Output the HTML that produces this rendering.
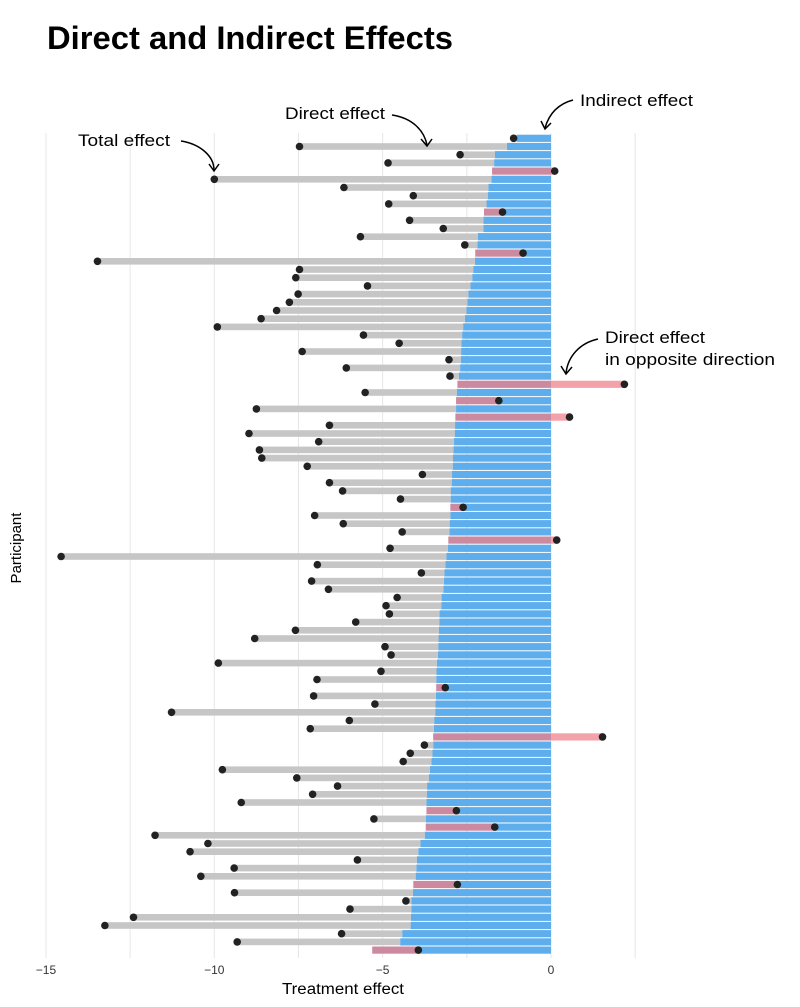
<!DOCTYPE html>
<html><head><meta charset="utf-8"><style>
body{margin:0;background:#fff;font-family:"Liberation Sans",sans-serif;}
#wrap{position:relative;width:800px;height:1007px;overflow:hidden;}
</style></head><body>
<div id="wrap">
<svg id="chart" width="800" height="1007" style="font-family:'Liberation Sans',sans-serif">
<text x="47" y="49" font-size="32" font-weight="bold" fill="#000" textLength="406" lengthAdjust="spacingAndGlyphs">Direct and Indirect Effects</text>
<g id="grid"></g>
<g id="bars"></g>
<g id="xticks"></g>
<text x="282" y="994" font-size="15.5" fill="#000" textLength="122" lengthAdjust="spacingAndGlyphs">Treatment effect</text>
<text transform="translate(21,548) rotate(-90)" font-size="15" text-anchor="middle" fill="#000">Participant</text>
<g>
<text x="78" y="146" font-size="17" fill="#000" textLength="92" lengthAdjust="spacingAndGlyphs">Total effect</text>
<path d="M181,141 C200,144 214,156 214,170" fill="none" stroke="#000" stroke-width="1.5"/>
<path d="M209,164 L214,171 L219,164" fill="none" stroke="#000" stroke-width="1.5"/>
</g>
<g>
<text x="285" y="119" font-size="17" fill="#000" textLength="100" lengthAdjust="spacingAndGlyphs">Direct effect</text>
<path d="M392,115 C412,118 424,130 427,145" fill="none" stroke="#000" stroke-width="1.5"/>
<path d="M421,139 L427,146 L432,139" fill="none" stroke="#000" stroke-width="1.5"/>
</g>
<g>
<text x="580" y="106" font-size="17" fill="#000" textLength="113" lengthAdjust="spacingAndGlyphs">Indirect effect</text>
<path d="M573,100 C558,104 549,114 545,128" fill="none" stroke="#000" stroke-width="1.5"/>
<path d="M541,121 L545,129 L551,123" fill="none" stroke="#000" stroke-width="1.5"/>
</g>
<g>
<text x="605" y="343" font-size="17" fill="#000" textLength="100" lengthAdjust="spacingAndGlyphs">Direct effect</text>
<text x="605" y="365" font-size="17" fill="#000" textLength="170" lengthAdjust="spacingAndGlyphs">in opposite direction</text>
<path d="M598,339 C580,343 568,356 566,373" fill="none" stroke="#000" stroke-width="1.5"/>
<path d="M561,366 L566,374 L572,367" fill="none" stroke="#000" stroke-width="1.5"/>
</g>
</svg>
</div>
<script>
const indirect=[-1.02,-1.31,-1.67,-1.69,-1.75,-1.77,-1.86,-1.88,-1.92,-1.99,-2.01,-2.01,-2.17,-2.19,-2.25,-2.26,-2.31,-2.34,-2.39,-2.45,
-2.48,-2.51,-2.56,-2.61,-2.64,-2.66,-2.67,-2.68,-2.70,-2.74,-2.78,-2.80,-2.82,-2.82,-2.84,-2.85,-2.86,-2.88,-2.90,-2.91,
-2.92,-2.94,-2.95,-2.98,-2.98,-2.99,-2.99,-3.01,-3.02,-3.05,-3.06,-3.11,-3.14,-3.17,-3.18,-3.20,-3.25,-3.26,-3.31,-3.32,
-3.33,-3.34,-3.35,-3.36,-3.39,-3.40,-3.41,-3.41,-3.42,-3.43,-3.44,-3.47,-3.48,-3.50,-3.50,-3.52,-3.55,-3.60,-3.63,-3.68,
-3.69,-3.70,-3.70,-3.72,-3.72,-3.75,-3.88,-3.94,-3.98,-4.00,-4.02,-4.09,-4.10,-4.15,-4.15,-4.16,-4.17,-4.42,-4.48,-5.31];
const total=[-1.11,-7.47,-2.70,-4.84,0.11,-10.0,-6.15,-4.09,-4.82,-1.44,-4.20,-3.20,-5.66,-2.56,-0.83,-13.47,-7.47,-7.58,-5.45,-7.51,
-7.77,-8.15,-8.61,-9.91,-5.57,-4.51,-7.39,-3.03,-6.08,-3.00,2.18,-5.52,-1.55,-8.75,0.55,-6.58,-8.97,-6.90,-8.66,-8.59,
-7.24,-3.82,-6.58,-6.19,-4.47,-2.61,-7.02,-6.17,-4.42,0.17,-4.78,-14.55,-6.94,-3.85,-7.11,-6.61,-4.57,-4.90,-4.80,-5.80,
-7.59,-8.80,-4.93,-4.75,-9.88,-5.05,-6.95,-3.14,-7.05,-5.23,-11.27,-5.99,-7.15,1.53,-3.76,-4.18,-4.39,-9.76,-7.55,-6.34,
-7.08,-9.20,-2.81,-5.26,-1.67,-11.76,-10.19,-10.72,-5.75,-9.41,-10.40,-2.78,-9.40,-4.31,-5.97,-12.40,-13.25,-6.22,-9.32,-3.94];
const gridVals=[-15,-12.5,-10,-7.5,-5,-2.5,0,2.5];
const tickVals=[-15,-10,-5,0];
const tickLabels=["\u221215","\u221210","\u22125","0"];

const NS="http://www.w3.org/2000/svg";
const X=v=>551+v*33.67;
const Y=i=>138.3+i*8.2;
function mk(tag,attrs,parent){const e=document.createElementNS(NS,tag);for(const k in attrs)e.setAttribute(k,attrs[k]);parent.appendChild(e);return e;}
const grid=document.getElementById('grid'),bars=document.getElementById('bars'),xt=document.getElementById('xticks');
gridVals.forEach(v=>{
  const l=mk('line',{x1:X(v),x2:X(v),y1:133,y2:958,stroke:'#e6e6e6','stroke-width':1},grid);
  
  
});
tickVals.forEach((v,i)=>{
  const t=mk('text',{x:X(v),y:974,'font-size':12,'text-anchor':'middle',fill:'#333'},xt);
  t.textContent=tickLabels[i];
  
  
});
const H=7.2;
indirect.forEach((ind,i)=>{
  const tot=total[i],y=Y(i);
  const g=mk('g',{},bars);
  
  
  if(tot<ind){
    const b=mk('rect',{x:X(ind),y:y-H/2,width:X(0)-X(ind),height:H,fill:'#5eadec'},g);
    
    
    const gr=mk('rect',{x:X(tot),y:y-3.3,width:X(ind)-X(tot),height:6.6,fill:'#c6c6c6'},g);
    
    
  } else {
    const end=Math.min(tot,0);
    const m=mk('rect',{x:X(ind),y:y-H/2,width:X(end)-X(ind),height:H,fill:'#cc8aa0'},g);
    
    
    if(tot<0){
      const b=mk('rect',{x:X(tot),y:y-H/2,width:X(0)-X(tot),height:H,fill:'#5eadec'},g);
      
      
    } else {
      const p=mk('rect',{x:X(0),y:y-H/2,width:X(tot)-X(0),height:H,fill:'#f4a2aa'},g);
      
      
    }
  }
  const d=mk('circle',{cx:X(tot),cy:y,r:3.8,fill:'#222'},g);
  
  
});
</script>
</body></html>
